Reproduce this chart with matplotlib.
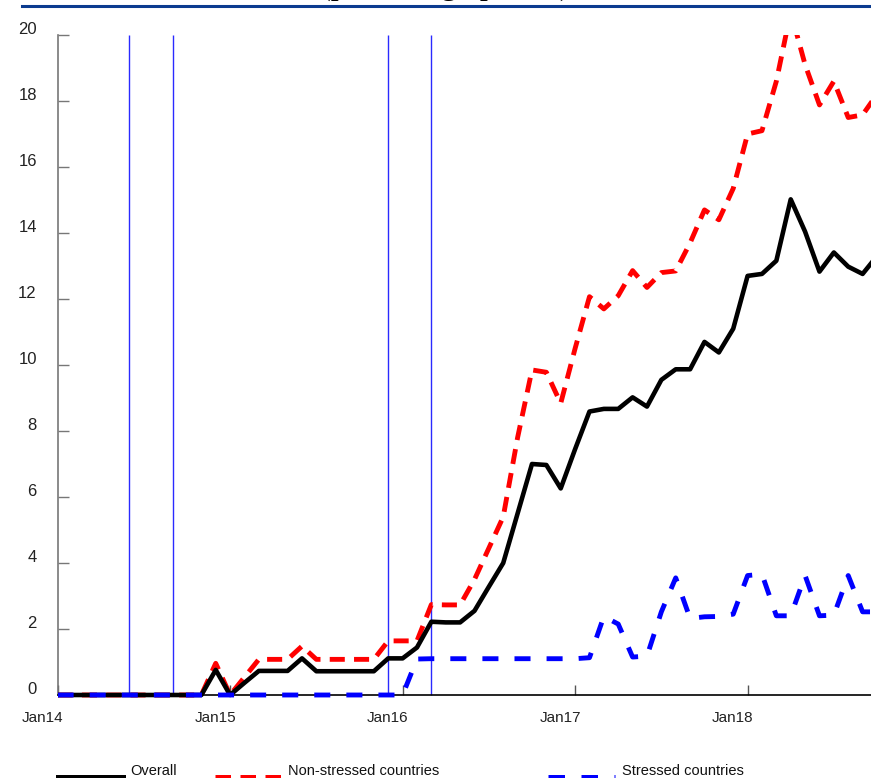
"""Bank lending spread chart: overall vs non-stressed vs stressed countries."""

import matplotlib
matplotlib.use("Agg")
import matplotlib.pyplot as plt
from matplotlib.lines import Line2D
from matplotlib.transforms import ScaledTranslation

# monthly observations, Jan14 = 0
months = list(range(58))

overall = [0] * 11 + [
    0.76, 0.0, 0.37, 0.73, 0.73, 0.73, 1.11, 0.72, 0.72, 0.72, 0.72, 0.72,
    1.11, 1.11, 1.44, 2.22, 2.20, 2.20, 2.55, 3.28, 4.00, 5.50, 7.00, 6.97,
    6.26, 7.45, 8.59, 8.67, 8.67, 9.02, 8.74, 9.55, 9.87, 9.87, 10.70, 10.38,
    11.10, 12.70, 12.76, 13.16, 15.02, 14.04, 12.83, 13.41, 12.98, 12.76, 13.30,
]

non_stressed = [0] * 11 + [
    0.96, 0.0, 0.54, 1.08, 1.08, 1.08, 1.48, 1.08, 1.08, 1.08, 1.08, 1.08,
    1.64, 1.64, 1.64, 2.74, 2.73, 2.73, 3.50, 4.45, 5.40, 7.80, 9.85, 9.78,
    8.84, 10.50, 12.07, 11.70, 12.10, 12.86, 12.35, 12.80, 12.85, 13.70, 14.70, 14.40,
    15.35, 17.00, 17.10, 18.60, 20.70, 19.10, 17.88, 18.60, 17.50, 17.58, 18.20,
]

stressed = [0] * 25 + [
    1.09, 1.10, 1.10, 1.10, 1.10, 1.10, 1.10, 1.10, 1.10, 1.10, 1.10, 1.10,
    1.13, 2.38, 2.15, 1.15, 1.18, 2.52, 3.55, 2.32, 2.37, 2.38, 2.45, 3.62,
    3.66, 2.40, 2.40, 3.62, 2.40, 2.42, 3.62, 2.52, 2.52,
]

# policy announcement months (Jun14, Sep14, Dec15, Mar16)
events = [5, 8, 23, 26]

tick_months = [0, 12, 24, 36, 48]
tick_labels = ["Jan14", "Jan15", "Jan16", "Jan17", "Jan18"]

title = "(percentage points)"
legend_labels = ["Overall", "Non-stressed countries", "Stressed countries"]

W, H = 871, 778
plt.rcParams['font.family'] = ['Liberation Sans', 'DejaVu Sans']

fig = plt.figure(figsize=(W / 100, H / 100), dpi=100)
ax = fig.add_axes([57.6 / W, (H - 701.6) / H, (W - 57.6) / W, (701.6 - 35) / H])

red_dash = (0, (3.1, 1.9))
blue_dash = (0, (3.3, 3.3))

ax.vlines(events, 0, 20, color='#2a2aff', lw=1, zorder=2)
ax.plot(months, non_stressed, color='red', lw=3.5, ls=red_dash, zorder=3)
ax.plot(months, overall, color='black', lw=3.3, zorder=4)
ax.plot(months, stressed, color='blue', lw=3.5, ls=blue_dash, zorder=5)

ax.set_xlim(0, (W - 57.6) / 14.375)
ax.set_ylim(-0.2, 20)

ax.spines['top'].set_visible(False)
ax.spines['right'].set_visible(False)
ax.spines['left'].set_bounds(0, 20)
ax.spines['left'].set_color('#777777')
ax.spines['left'].set_linewidth(1.2)
ax.spines['bottom'].set_position(('data', 0))
ax.spines['bottom'].set_color('black')
ax.spines['bottom'].set_linewidth(1.2)

ax.set_yticks(range(0, 21, 2))
ax.set_xticks(tick_months)
ax.set_xticklabels(tick_labels)
ax.tick_params(axis='y', direction='in', length=8, width=1, color='#777777',
               pad=15, labelsize=12, labelcolor='#222222')
ax.tick_params(axis='x', direction='in', length=7, width=1, color='#555555',
               pad=11.5, labelsize=11, labelcolor='#222222')

# labels sit a bit off their ticks in the original
for lab in ax.get_xticklabels():
    lab.set_transform(lab.get_transform() + ScaledTranslation(-0.15, 0, fig.dpi_scale_trans))
for lab in ax.get_yticklabels():
    lab.set_transform(lab.get_transform() + ScaledTranslation(0, 0.07, fig.dpi_scale_trans))

# header rule and title (only its descenders show above the rule)
fig.add_artist(Line2D([22 / W, 1], [1 - 6 / H, 1 - 6 / H], color='#0b3b8f', lw=2.2))
fig.text(445 / W, 1 + 6.5 / H, title, ha='center', va='baseline',
         fontsize=23.5, family='Liberation Serif')

# legend, drawn by hand along the bottom edge
entries = [
    (legend_labels[0], 'black', '-', 58, 123, 130),
    (legend_labels[1], 'red', red_dash, 215, 285, 288),
    (legend_labels[2], 'blue', blue_dash, 548, 615, 622),
]
y_line = 1 - 777 / H
for label, color, ls, x0, x1, xt in entries:
    fig.add_artist(Line2D([x0 / W, x1 / W], [y_line, y_line], color=color, ls=ls, lw=3.6))
    fig.text(xt / W, 3 / H, label, ha='left', va='baseline', fontsize=10.5, color='#111111')

fig.savefig("out.png", dpi=100)
